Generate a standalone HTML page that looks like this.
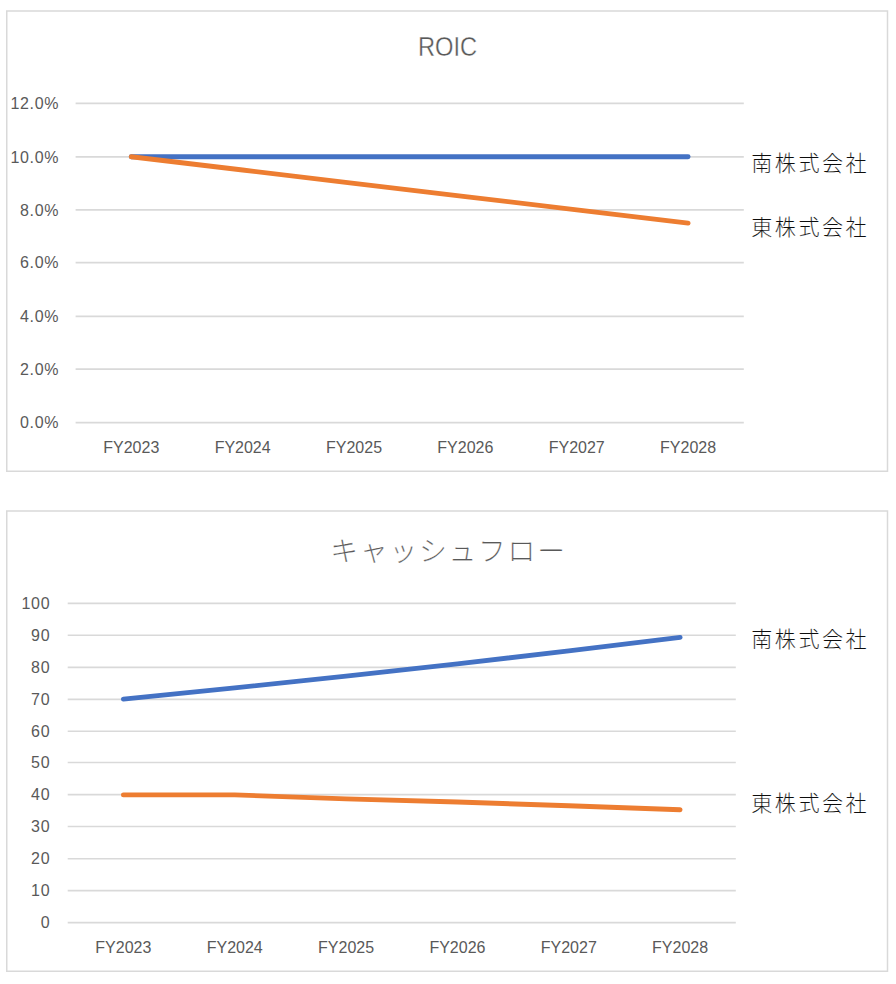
<!DOCTYPE html>
<html lang="ja">
<head>
<meta charset="utf-8">
<title>ROIC / キャッシュフロー</title>
<style>
  html, body { margin: 0; padding: 0; background: #ffffff; }
  body { width: 896px; height: 984px; overflow: hidden; }
  svg { display: block; }
  text { font-family: "Liberation Sans", "Noto Sans CJK JP", sans-serif; }
  .frame { fill: #ffffff; stroke: #d9d9d9; stroke-width: 1.5; }
  .grid line { stroke: #d9d9d9; stroke-width: 1.65; }
  .ax { font-size: 16px; fill: #595959; }
  .ylab text { text-anchor: end; letter-spacing: 0.7px; }
  .xlab text { text-anchor: middle; }
  .title-en { font-size: 26.8px; fill: #595959; text-anchor: middle; stroke: #ffffff; stroke-width: 0.35px; }
  .title-ja { font-size: 27.8px; letter-spacing: 1.75px; font-weight: 300; fill: #595959; text-anchor: middle; stroke: #ffffff; stroke-width: 0.2px; }
  .series { font-size: 21.1px; letter-spacing: 2.45px; font-weight: 300; fill: #0d0d0d; stroke: #ffffff; stroke-width: 0.12px; }
  .ln { fill: none; stroke-width: 4.85; stroke-linecap: round; stroke-linejoin: round; }
  .blue { stroke: #4472c4; }
  .orange { stroke: #ed7d31; }
</style>
</head>
<body>
<svg width="896" height="984" viewBox="0 0 896 984">

  <!-- ============ Chart 1 : ROIC ============ -->
  <g id="chart-roic">
    <rect class="frame" x="6.75" y="11" width="880.75" height="460.25"/>
    <text class="title-en" x="447.6" y="55.7" textLength="59.2" lengthAdjust="spacingAndGlyphs">ROIC</text>
    <g class="grid">
      <line x1="75.6" x2="743.8" y1="103.3" y2="103.3"/>
      <line x1="75.6" x2="743.8" y1="156.9" y2="156.9"/>
      <line x1="75.6" x2="743.8" y1="209.85" y2="209.85"/>
      <line x1="75.6" x2="743.8" y1="262.55" y2="262.55"/>
      <line x1="75.6" x2="743.8" y1="316.4" y2="316.4"/>
      <line x1="75.6" x2="743.8" y1="369.05" y2="369.05"/>
      <line x1="75.6" x2="743.8" y1="422.6" y2="422.6"/>
    </g>
    <g class="ax ylab">
      <text x="59.3" y="108.95">12.0%</text>
      <text x="59.3" y="162.55">10.0%</text>
      <text x="59.3" y="215.5">8.0%</text>
      <text x="59.3" y="268.2">6.0%</text>
      <text x="59.3" y="322.05">4.0%</text>
      <text x="59.3" y="374.7">2.0%</text>
      <text x="59.3" y="428.25">0.0%</text>
    </g>
    <g class="ax xlab">
      <text x="131.28" y="452.9">FY2023</text>
      <text x="242.65" y="452.9">FY2024</text>
      <text x="354.02" y="452.9">FY2025</text>
      <text x="465.38" y="452.9">FY2026</text>
      <text x="576.75" y="452.9">FY2027</text>
      <text x="688.12" y="452.9">FY2028</text>
    </g>
    <polyline class="ln blue" points="131.28,156.75 242.65,156.75 354.02,156.75 465.38,156.75 576.75,156.75 688.12,156.75"/>
    <polyline class="ln orange" points="131.28,156.75 242.65,170.02 354.02,183.29 465.38,196.56 576.75,209.83 688.12,223.1"/>
    <text class="series" x="751.3" y="171.2">南株式会社</text>
    <text class="series" x="751.3" y="235.4">東株式会社</text>
  </g>

  <!-- ============ Chart 2 : キャッシュフロー ============ -->
  <g id="chart-cf">
    <rect class="frame" x="6.75" y="511" width="880.75" height="460.25"/>
    <text class="title-ja" x="448.5" y="561.1">キャッシュフロー</text>
    <g class="grid">
      <line x1="67.7" x2="735.8" y1="603.3" y2="603.3"/>
      <line x1="67.7" x2="735.8" y1="635.23" y2="635.23"/>
      <line x1="67.7" x2="735.8" y1="667.42" y2="667.42"/>
      <line x1="67.7" x2="735.8" y1="699.35" y2="699.35"/>
      <line x1="67.7" x2="735.8" y1="731.28" y2="731.28"/>
      <line x1="67.7" x2="735.8" y1="762.5" y2="762.5"/>
      <line x1="67.7" x2="735.8" y1="794.58" y2="794.58"/>
      <line x1="67.7" x2="735.8" y1="826.5" y2="826.5"/>
      <line x1="67.7" x2="735.8" y1="858.74" y2="858.74"/>
      <line x1="67.7" x2="735.8" y1="890.67" y2="890.67"/>
      <line x1="67.7" x2="735.8" y1="922.6" y2="922.6"/>
    </g>
    <g class="ax ylab">
      <text x="50.3" y="608.95">100</text>
      <text x="50.3" y="640.88">90</text>
      <text x="50.3" y="673.07">80</text>
      <text x="50.3" y="705">70</text>
      <text x="50.3" y="736.93">60</text>
      <text x="50.3" y="768.15">50</text>
      <text x="50.3" y="800.23">40</text>
      <text x="50.3" y="832.15">30</text>
      <text x="50.3" y="864.39">20</text>
      <text x="50.3" y="896.32">10</text>
      <text x="50.3" y="928.25">0</text>
    </g>
    <g class="ax xlab">
      <text x="123.38" y="952.9">FY2023</text>
      <text x="234.72" y="952.9">FY2024</text>
      <text x="346.07" y="952.9">FY2025</text>
      <text x="457.42" y="952.9">FY2026</text>
      <text x="568.77" y="952.9">FY2027</text>
      <text x="680.12" y="952.9">FY2028</text>
    </g>
    <polyline class="ln blue" points="123.38,699.09 234.72,687.91 346.07,676.18 457.42,663.86 568.77,650.92 680.12,637.34"/>
    <polyline class="ln orange" points="123.38,794.88 234.72,794.88 346.07,798.88 457.42,801.98 568.77,805.78 680.12,809.78"/>
    <text class="series" x="751.3" y="646.9">南株式会社</text>
    <text class="series" x="751.3" y="811.1">東株式会社</text>
  </g>
</svg>
</body>
</html>
